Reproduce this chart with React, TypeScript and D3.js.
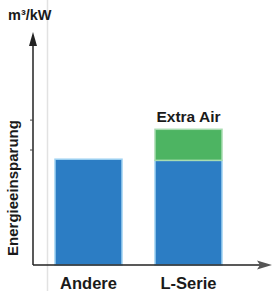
import { useEffect, useRef } from 'react';
import * as d3 from 'd3';

const categories = ['Andere', 'L-Serie'];
const baseValues = [46, 45.5];
const extraValues = [0, 13.5];
const extraLabel = 'Extra Air';
const yTicks = [50, 63];

const W = 274;
const H = 291;

export default function App() {
  const svgRef = useRef<SVGSVGElement>(null);

  useEffect(() => {
    const svg = d3.select(svgRef.current);
    svg.selectAll('*').remove();

    const x0 = 33;
    const y0 = 265;
    const font = 'Liberation Sans, Arial, sans-serif';

    const x = d3.scaleBand().domain(categories).range([22, 255]).padding(0.33);
    const y = d3.scaleLinear().domain([0, 100]).range([y0, 35]);

    // faint vertical guide line
    svg.append('line')
      .attr('x1', 47.5).attr('x2', 47.5).attr('y1', 0).attr('y2', H)
      .attr('stroke', '#e2e2e2').attr('stroke-width', 1.5);

    const bars = svg.append('g');
    categories.forEach((c, i) => {
      const bx = x(c)!;
      bars.append('rect')
        .attr('x', bx).attr('width', x.bandwidth())
        .attr('y', y(baseValues[i])).attr('height', y0 - y(baseValues[i]))
        .attr('fill', '#2c7dc4')
        .attr('stroke', '#9fd2f2').attr('stroke-width', 1.5);
      if (extraValues[i] > 0) {
        const top = baseValues[i] + extraValues[i];
        bars.append('rect')
          .attr('x', bx).attr('width', x.bandwidth())
          .attr('y', y(top)).attr('height', y(baseValues[i]) - y(top))
          .attr('fill', '#4db462')
          .attr('stroke', '#a8dcb0').attr('stroke-width', 1.5);
        svg.append('text')
          .attr('x', bx + x.bandwidth() / 2).attr('y', y(top) - 7)
          .attr('text-anchor', 'middle')
          .style('font-family', font).style('font-weight', 'bold').style('font-size', '15.5px')
          .attr('fill', '#1a1a1a')
          .text(extraLabel);
      }
      svg.append('text')
        .attr('x', bx + x.bandwidth() / 2).attr('y', 289)
        .attr('text-anchor', 'middle')
        .style('font-family', font).style('font-weight', 'bold').style('font-size', '16.5px')
        .attr('fill', '#1a1a1a')
        .text(c);
    });

    // axes
    svg.append('line')
      .attr('x1', x0).attr('x2', x0).attr('y1', y0).attr('y2', 42)
      .attr('stroke', '#222').attr('stroke-width', 1.5);
    svg.append('path')
      .attr('d', `M${x0},32 L${x0 - 4},46 L${x0 + 4},46 Z`)
      .attr('fill', '#222');
    svg.append('line')
      .attr('x1', x0).attr('x2', 262).attr('y1', y0).attr('y2', y0)
      .attr('stroke', '#222').attr('stroke-width', 1.5);
    svg.append('path')
      .attr('d', `M272,${y0} L257,${y0 - 4.5} L260,${y0} L257,${y0 + 4.5} Z`)
      .attr('fill', '#555');

    svg.selectAll('.tick')
      .data(yTicks)
      .enter()
      .append('line')
      .attr('x1', x0 - 3).attr('x2', x0)
      .attr('y1', d => y(d)).attr('y2', d => y(d))
      .attr('stroke', '#444').attr('stroke-width', 1);

    svg.append('text')
      .attr('x', 8).attr('y', 20)
      .style('font-family', font).style('font-weight', 'bold').style('font-size', '14.5px')
      .attr('fill', '#1a1a1a')
      .text('m³/kW');

    svg.append('text')
      .attr('transform', `translate(18, 188) rotate(-90)`)
      .attr('text-anchor', 'middle')
      .style('font-family', font).style('font-weight', 'bold').style('font-size', '15px')
      .attr('fill', '#1a1a1a')
      .text('Energieeinsparung');
  }, []);

  return (
    <svg
      ref={svgRef}
      width={W}
      height={H}
      style={{ position: 'absolute', left: 0, top: 0, background: '#fff' }}
    />
  );
}
